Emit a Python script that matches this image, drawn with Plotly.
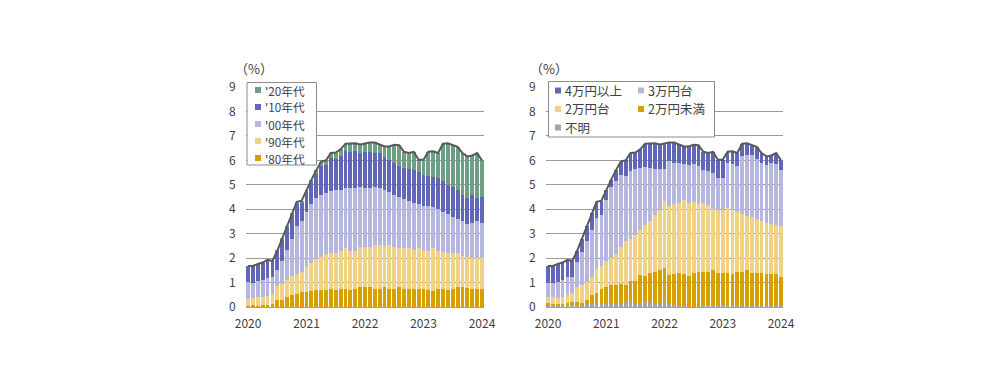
import plotly.graph_objects as go

months = [f"{y}/{m:02d}" for y in range(2020, 2024) for m in range(1, 13)] + ["2024/01"]
year_ticks = ["2020/01", "2021/01", "2022/01", "2023/01", "2024/01"]
year_labels = ["2020", "2021", "2022", "2023", "2024"]

# ---- left panel: by launch decade (%)
era80 = [0.05,0.08,0.06,0.07,0.08,0.12,0.3,0.3,0.4,0.48,
         0.55,0.6,0.6,0.65,0.68,0.7,0.7,0.72,0.7,0.75,
         0.75,0.7,0.72,0.8,0.8,0.8,0.75,0.75,0.8,0.75,
         0.75,0.8,0.75,0.72,0.72,0.72,0.75,0.68,0.65,0.72,
         0.72,0.7,0.72,0.8,0.8,0.78,0.75,0.75,0.75]
era90 = [0.28,0.27,0.34,0.35,0.37,0.43,0.55,0.65,0.7,0.77,
         0.8,0.85,1.05,1.15,1.27,1.35,1.45,1.48,1.5,1.55,
         1.65,1.6,1.58,1.65,1.65,1.65,1.8,1.8,1.7,1.8,
         1.7,1.6,1.65,1.68,1.63,1.68,1.55,1.62,1.75,1.58,
         1.53,1.5,1.48,1.4,1.3,1.27,1.25,1.25,1.25]
era00 = [0.71,0.65,0.65,0.68,0.72,0.67,0.65,0.95,1.25,1.55,
         1.95,2.05,2.25,2.4,2.5,2.55,2.5,2.55,2.58,2.5,
         2.45,2.55,2.55,2.45,2.4,2.43,2.35,2.3,2.28,2.17,
         2.15,2.08,2.0,1.93,1.92,1.8,1.85,1.82,1.68,1.7,
         1.65,1.6,1.5,1.4,1.4,1.35,1.45,1.5,1.45]
era10 = [0.64,0.68,0.71,0.72,0.76,0.66,0.78,0.87,0.91,0.99,
         0.95,0.78,0.8,0.88,1.0,1.17,1.15,1.33,1.29,1.37,
         1.53,1.51,1.52,1.4,1.5,1.47,1.42,1.43,1.37,1.31,
         1.3,1.28,1.3,1.3,1.33,1.32,1.25,1.22,1.25,1.26,
         1.24,1.2,1.2,1.2,1.1,1.06,1.13,0.96,1.05]
era20 = [0,0,0,0,0,0,0.02,0.03,0.04,0.05,
         0.05,0.07,0.1,0.12,0.15,0.18,0.2,0.22,0.25,0.28,
         0.3,0.32,0.33,0.35,0.35,0.38,0.41,0.37,0.42,0.54,
         0.74,0.86,0.65,0.67,0.75,0.5,0.62,1.01,1.04,1.04,
         1.54,1.7,1.72,1.75,1.7,1.7,1.62,1.84,1.5]

# ---- right panel: by price band (%)
unknown = [0.08,0.08,0.08,0.08,0.1,0.12,0.12,0.05,0.12,0.15,
           0.15,0.15,0.18,0.15,0.15,0.15,0.22,0.2,0.12,0.15,
           0.2,0.22,0.18,0.15,0.33,0.12,0.1,0.06,0.03,0.02,
           0.02,0.02,0.08,0.1,0.08,0.1,0.08,0.08,0.06,0.05,
           0.06,0.05,0.05,0.05,0.05,0.05,0.05,0.05,0.05]
under20k = [0.07,0.04,0.04,0.05,0.05,0.08,0.08,0.1,0.18,0.33,
            0.43,0.6,0.62,0.77,0.77,0.78,0.7,0.88,0.93,1.15,
            1.08,1.18,1.27,1.35,1.25,1.19,1.25,1.32,1.31,1.26,
            1.36,1.43,1.34,1.35,1.44,1.28,1.3,1.3,1.29,1.4,
            1.36,1.47,1.35,1.35,1.33,1.3,1.3,1.3,1.19]
range20k = [0.25,0.28,0.26,0.27,0.35,0.36,0.6,0.75,0.74,0.76,
            0.97,0.93,1.1,1.08,1.25,1.54,1.76,1.69,1.9,1.85,
            2.08,2.1,2.32,2.45,2.74,2.84,2.85,2.87,3.02,2.97,
            2.9,2.77,2.83,2.73,2.5,2.59,2.59,2.69,2.62,2.45,
            2.39,2.21,2.27,2.19,2.12,2.08,2.04,2.01,2.09]
range30k = [0.57,0.57,0.66,0.7,0.74,0.68,1.06,1.37,1.64,1.92,
            2.08,2.09,2.48,2.9,2.97,2.94,2.66,2.78,2.69,2.53,
            2.36,2.18,1.87,1.69,1.33,1.81,1.71,1.64,1.5,1.57,
            1.57,1.56,1.36,1.37,1.46,1.3,1.3,1.82,1.88,1.85,
            2.38,2.5,2.53,2.46,2.39,2.39,2.5,2.49,2.27]
over40k = [0.71,0.71,0.72,0.72,0.69,0.64,0.44,0.53,0.62,0.68,
           0.67,0.58,0.42,0.3,0.46,0.54,0.66,0.75,0.68,0.77,
           0.96,1.0,1.06,1.01,1.05,0.77,0.82,0.76,0.71,0.75,
           0.79,0.84,0.74,0.75,0.87,0.75,0.75,0.46,0.52,0.55,
           0.49,0.47,0.42,0.5,0.41,0.34,0.31,0.45,0.4]

left_series = [("'80年代", era80, "#D6A100"), ("'90年代", era90, "#EFD283"),
               ("'00年代", era00, "#B5B7DF"), ("'10年代", era10, "#6266B9"),
               ("'20年代", era20, "#6E9E85")]
right_series = [("不明", unknown, "#A5A5A5"), ("2万円未満", under20k, "#D6A100"),
                ("2万円台", range20k, "#EFD283"), ("3万円台", range30k, "#B5B7DF"),
                ("4万円以上", over40k, "#6266B9")]

LINE = "#595959"
GRID = "#9a9a9a"
TXT = "#404040"
FONT = "Noto Sans CJK JP"

fig = go.Figure()
for name, vals, col in left_series:
    fig.add_trace(go.Bar(x=months, y=vals, name=name, marker=dict(color=col, line=dict(width=0)),
                         xaxis="x", yaxis="y", showlegend=False))
left_total = [sum(v) for v in zip(*[s[1] for s in left_series])]
fig.add_trace(go.Scatter(x=months, y=left_total, mode="lines", line=dict(color=LINE, width=2),
                         xaxis="x", yaxis="y", showlegend=False))
for name, vals, col in right_series:
    fig.add_trace(go.Bar(x=months, y=vals, name=name, marker=dict(color=col, line=dict(width=0)),
                         xaxis="x2", yaxis="y2", showlegend=False))
right_total = [sum(v) for v in zip(*[s[1] for s in right_series])]
fig.add_trace(go.Scatter(x=months, y=right_total, mode="lines", line=dict(color=LINE, width=2),
                         xaxis="x2", yaxis="y2", showlegend=False))

# page has an 8px body margin: the figure sits at (8, 8) inside the 989x389 window
OFF = 8
W, H = 989 - 2 * OFF, 389 - 2 * OFF
def px(x): return (x - OFF) / W
def py(y): return 1 - (y - OFF) / H

ydom = [py(307), py(87)]
xcommon = dict(type="category", tickmode="array", tickvals=year_ticks, ticktext=year_labels,
               range=[-0.5, 48.5], showgrid=False, showline=True, linecolor="#a0a0a0", linewidth=1,
               ticks="", tickfont=dict(family=FONT, size=12, color=TXT), ticklabelstandoff=6,
               fixedrange=True, automargin=False)
ycommon = dict(range=[0, 9], dtick=1, showgrid=True, gridcolor=GRID, gridwidth=1, zeroline=False,
               showline=False, ticks="", tickfont=dict(family=FONT, size=12, color=TXT),
               ticklabelstandoff=9, fixedrange=True, automargin=False)

fig.update_layout(
    width=W, height=H, autosize=False,
    margin=dict(l=0, r=0, t=0, b=0, pad=0, autoexpand=False),
    paper_bgcolor="white", plot_bgcolor="white",
    barmode="stack", bargap=0.22,
    showlegend=False,
    xaxis=dict(domain=[px(245.6), px(484.4)], anchor="y", **xcommon),
    yaxis=dict(domain=ydom, anchor="x", **ycommon),
    xaxis2=dict(domain=[px(545.6), px(783.4)], anchor="y2", **xcommon),
    yaxis2=dict(domain=ydom, anchor="x2", **ycommon),
)

shapes = []
annotations = []
# unit labels
for xc in (254, 549):
    annotations.append(dict(x=px(xc), y=py(68), xref="paper", yref="paper", text="（%）",
                            showarrow=False, xanchor="center", yanchor="middle",
                            font=dict(family=FONT, size=13, color=TXT)))

def legend_box(x0, y0, x1, y1):
    shapes.append(dict(type="rect", xref="paper", yref="paper", x0=px(x0), x1=px(x1),
                       y0=py(y1), y1=py(y0), fillcolor="white", line=dict(color="#8c8c8c", width=1),
                       layer="above"))

def legend_item(xsq, yc, text, col, size):
    shapes.append(dict(type="rect", xref="paper", yref="paper", x0=px(xsq), x1=px(xsq + 6),
                       y0=py(yc + 3), y1=py(yc - 3), fillcolor=col, line=dict(width=0), layer="above"))
    annotations.append(dict(x=px(xsq + 8), y=py(yc), xref="paper", yref="paper", text=text,
                            showarrow=False, xanchor="left", yanchor="middle", align="left",
                            font=dict(family=FONT, size=size, color=TXT)))

# left legend
legend_box(247, 82.5, 316.5, 165)
rows = [90, 107, 124, 141, 158]
for (name, vals, col), yc in zip(reversed(left_series), rows):
    legend_item(255, yc, name, col, 11.7)

# right legend
legend_box(548.5, 81.5, 714.5, 137)
legend_item(555, 90.5, right_series[4][0], right_series[4][2], 12.5)
legend_item(638, 90.5, right_series[3][0], right_series[3][2], 12.5)
legend_item(555, 109, right_series[2][0], right_series[2][2], 12.5)
legend_item(638, 109, right_series[1][0], right_series[1][2], 12.5)
legend_item(555, 127.5, right_series[0][0], right_series[0][2], 12.5)

fig.update_layout(shapes=shapes, annotations=annotations)
fig.write_html("out.html")
